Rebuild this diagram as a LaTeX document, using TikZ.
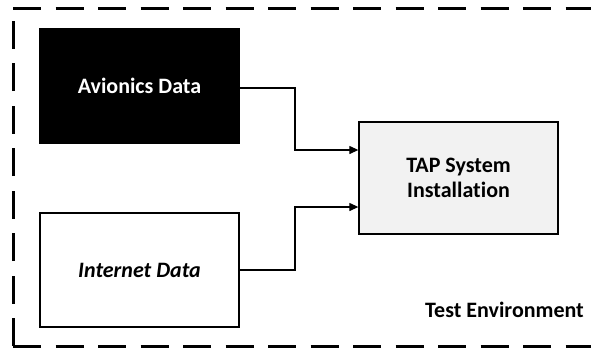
\documentclass[tikz,border=0pt]{standalone}
\usepackage{fontspec}
\setmainfont[Ligatures={NoCommon,NoDiscretionary}]{Carlito}
\usetikzlibrary{arrows.meta}
\begin{document}
\begin{tikzpicture}[x=1pt,y=-1pt,
  envline/.style={line width=3pt, dash pattern=on 28pt off 14.5pt},
  lbl/.style={font=\fontsize{22}{25}\selectfont\bfseries},
  databox/.style={draw, line width=1.3pt, minimum width=199pt, minimum height=114pt, inner sep=0pt, lbl},
  conn/.style={line width=1.2pt, -{Triangle[length=9pt,width=8pt]}}]
\useasboundingbox (0,0) rectangle (591,349);
\coordinate (bl) at (13,346);
\coordinate (tl) at (13,8);
\coordinate (tr) at (610,8);
\coordinate (br) at (610,346);
\draw[envline] (bl) -- (tl);
\draw[envline] (tl) -- (tr);
\draw[envline] (bl) -- (br);
\node[databox, fill=black, text=white] (av) at (139.5,86) {Avionics Data};
\node[databox, fill=white] (in) at (139.5,270) {\itshape Internet Data};
\node[databox, fill=black!5, minimum width=199pt, minimum height=112pt, align=center] (tap) at (458.5,178) {TAP System\\Installation};
\node[lbl, anchor=east, inner sep=0pt] (te) at (584,310) {Test Environment};
\draw[conn] (av.east |- 0,88) -| (295,150) -- (tap.west |- 0,150);
\draw[conn] (in.east) -| (295,207) -- (tap.west |- 0,207);
\end{tikzpicture}
\end{document}
